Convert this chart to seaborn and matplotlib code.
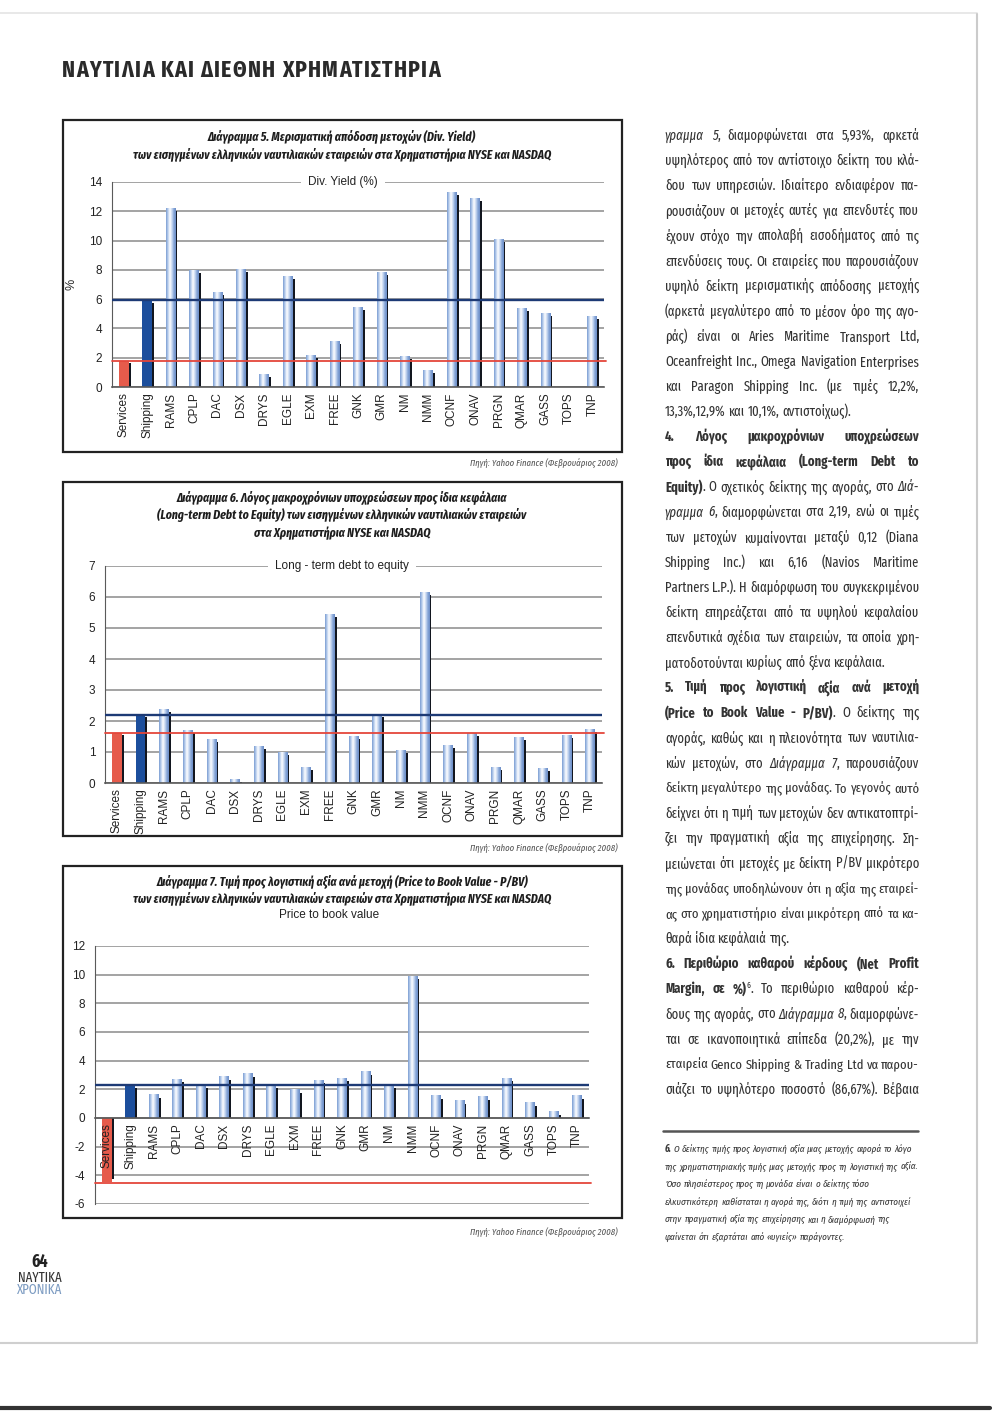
import numpy as np
import pandas as pd
import matplotlib
matplotlib.use("Agg")
import matplotlib.pyplot as plt
import seaborn as sns
from matplotlib import font_manager
from matplotlib.patches import Rectangle
from matplotlib.lines import Line2D
from matplotlib.colors import LinearSegmentedColormap

W, H, DPI = 1000, 1414, 100

# ---------------- data ----------------
tickers = ["Services", "Shipping", "RAMS", "CPLP", "DAC", "DSX", "DRYS", "EGLE", "EXM", "FREE",
           "GNK", "GMR", "NM", "NMM", "OCNF", "ONAV", "PRGN", "QMAR", "GASS", "TOPS", "TNP"]

div_yield = [1.8, 5.93, 12.2, 7.95, 6.45, 8.0, 0.85, 7.55, 2.15, 3.1,
             5.4, 7.8, 2.07, 1.15, 13.3, 12.9, 10.05, 5.38, 5.0, 0.0, 4.8]
debt_equity = [1.62, 2.2, 2.37, 1.69, 1.41, 0.12, 1.19, 0.98, 0.51, 5.45,
               1.49, 2.2, 1.04, 6.16, 1.2, 1.59, 0.51, 1.47, 0.48, 1.54, 1.73]
price_book = [-4.45, 2.32, 1.63, 2.7, 2.29, 2.87, 3.1, 2.29, 1.96, 2.63,
              2.78, 3.22, 2.29, 9.9, 1.54, 1.2, 1.48, 2.77, 1.07, 0.45, 1.54]

services_avg = [1.75, 1.62, -4.54]
shipping_avg = [5.93, 2.2, 2.3]

chart_titles = [
    ["Διάγραμμα 5. Μερισματική απόδοση μετοχών (Div. Yield)",
     "των εισηγμένων ελληνικών ναυτιλιακών εταιρειών στα Χρηματιστήρια NYSE και NASDAQ"],
    ["Διάγραμμα 6. Λόγος μακροχρόνιων υποχρεώσεων προς ίδια κεφάλαια",
     "(Long-term Debt to Equity) των εισηγμένων ελληνικών ναυτιλιακών εταιρειών",
     "στα Χρηματιστήρια NYSE και NASDAQ"],
    ["Διάγραμμα 7. Τιμή προς λογιστική αξία ανά μετοχή (Price to Book Value - P/BV)",
     "των εισηγμένων ελληνικών ναυτιλιακών εταιρειών στα Χρηματιστήρια NYSE και NASDAQ"],
]
series_names = ["Div. Yield (%)", "Long - term debt to equity", "Price to book value"]
source_note = "Πηγή: Yahoo Finance (Φεβρουάριος 2008)"
header = "ΝΑΥΤΙΛΙΑ ΚΑΙ ΔΙΕΘΝΗ ΧΡΗΜΑΤΙΣΤΗΡΙΑ"

# body text of the right column: (text, style) segments; r=regular, i=italic, b=bold, s=superscript
body_lines = [
    [("γραμμα 5", "i"), (", διαμορφώνεται στα 5,93%, αρκετά", "r")],
    [("υψηλότερος από τον αντίστοιχο δείκτη του κλά-", "r")],
    [("δου των υπηρεσιών. Ιδιαίτερο ενδιαφέρον πα-", "r")],
    [("ρουσιάζουν οι μετοχές αυτές για επενδυτές που", "r")],
    [("έχουν στόχο την απολαβή εισοδήματος από τις", "r")],
    [("επενδύσεις τους. Οι εταιρείες που παρουσιάζουν", "r")],
    [("υψηλό δείκτη μερισματικής απόδοσης μετοχής", "r")],
    [("(αρκετά μεγαλύτερο από το μέσον όρο της αγο-", "r")],
    [("ράς) είναι οι Aries Maritime Transport Ltd,", "r")],
    [("Oceanfreight Inc., Omega Navigation Enterprises", "r")],
    [("και Paragon Shipping Inc. (με τιμές 12,2%,", "r")],
    [("13,3%,12,9% και 10,1%, αντιστοίχως).", "r")],
    [("4. Λόγος μακροχρόνιων υποχρεώσεων", "b")],
    [("προς ίδια κεφάλαια (Long-term Debt to", "b")],
    [("Equity)", "b"), (". Ο σχετικός δείκτης της αγοράς, στο ", "r"), ("Διά-", "i")],
    [("γραμμα 6", "i"), (", διαμορφώνεται στα 2,19, ενώ οι τιμές", "r")],
    [("των μετοχών κυμαίνονται μεταξύ 0,12 (Diana", "r")],
    [("Shipping Inc.) και 6,16 (Navios Maritime", "r")],
    [("Partners L.P.). Η διαμόρφωση του συγκεκριμένου", "r")],
    [("δείκτη επηρεάζεται από τα υψηλού κεφαλαίου", "r")],
    [("επενδυτικά σχέδια των εταιρειών, τα οποία χρη-", "r")],
    [("ματοδοτούνται κυρίως από ξένα κεφάλαια.", "r")],
    [("5. Τιμή προς λογιστική αξία ανά μετοχή", "b")],
    [("(Price to Book Value - P/BV)", "b"), (". Ο δείκτης της", "r")],
    [("αγοράς, καθώς και η πλειονότητα των ναυτιλια-", "r")],
    [("κών μετοχών, στο ", "r"), ("Διάγραμμα 7", "i"), (", παρουσιάζουν", "r")],
    [("δείκτη μεγαλύτερο της μονάδας. Το γεγονός αυτό", "r")],
    [("δείχνει ότι η τιμή των μετοχών δεν αντικατοπτρί-", "r")],
    [("ζει την πραγματική αξία της επιχείρησης. Ση-", "r")],
    [("μειώνεται ότι μετοχές με δείκτη P/BV μικρότερο", "r")],
    [("της μονάδας υποδηλώνουν ότι η αξία της εταιρεί-", "r")],
    [("ας στο χρηματιστήριο είναι μικρότερη από τα κα-", "r")],
    [("θαρά ίδια κεφάλαιά της.", "r")],
    [("6. Περιθώριο καθαρού κέρδους (Net Profit", "b")],
    [("Margin, σε %)", "b"), ("6", "s"), (". Το περιθώριο καθαρού κέρ-", "r")],
    [("δους της αγοράς, στο ", "r"), ("Διάγραμμα 8", "i"), (", διαμορφώνε-", "r")],
    [("ται σε ικανοποιητικά επίπεδα (20,2%), με την", "r")],
    [("εταιρεία Genco Shipping & Trading Ltd να παρου-", "r")],
    [("σιάζει το υψηλότερο ποσοστό (86,67%). Βέβαια", "r")],
]
paragraph_ends = {11, 21, 32}

footnote_lines = [
    [("6.", "bi"), (" Ο δείκτης τιμής προς λογιστική αξία μιας μετοχής αφορά το λόγο", "i")],
    [("της χρηματιστηριακής τιμής μιας μετοχής προς τη λογιστική της αξία.", "i")],
    [("Όσο πλησιέστερος προς τη μονάδα είναι ο δείκτης τόσο", "i")],
    [("ελκυστικότερη καθίσταται η αγορά της, διότι η τιμή της αντιστοιχεί", "i")],
    [("στην πραγματική αξία της επιχείρησης και η διαμόρφωσή της", "i")],
    [("φαίνεται ότι εξαρτάται από «υγιείς» παράγοντες.", "i")],
]

# ---------------- setup ----------------
sns.set_style("white")
available = {f.name for f in font_manager.fontManager.ttflist}
NARROW = "Fira Sans Condensed" if "Fira Sans Condensed" in available else "DejaVu Sans"
XNARROW = "Fira Sans Extra Condensed" if "Fira Sans Extra Condensed" in available else NARROW
plt.rcParams["font.family"] = ["Liberation Sans", "DejaVu Sans"]
plt.rcParams["axes.unicode_minus"] = False

RED = "#E65B4B"
NAVY = "#1C4E9C"
LIGHT = "#8FB0DD"
CYL = LinearSegmentedColormap.from_list(
    "cyl", ["#7b9dd2", "#b9cfee", "#ffffff", "#c9d9f1", "#86a6d8", "#6b8cc6"])
GRAD = np.linspace(0, 1, 64).reshape(1, -1)

fig = plt.figure(figsize=(W / DPI, H / DPI), dpi=DPI)
fig.patch.set_facecolor("white")
renderer = fig.canvas.get_renderer()


def fx(x):
    return x / W


def fy(y):
    return 1 - y / H


_cache = {}


def style_kw(st, size, family=None):
    kw = dict(family=[family or XNARROW, "DejaVu Sans"], fontsize=size)
    if "b" in st:
        kw["fontweight"] = "bold"
    if "i" in st:
        kw["fontstyle"] = "italic"
    if st == "s":
        kw["fontsize"] = size * 0.6
    return kw


def text_w(s, st, size, family=None):
    key = (s, st, size, family)
    if key not in _cache:
        if s == " ":
            _cache[key] = text_w("a a", st, size, family) - text_w("aa", st, size, family)
        else:
            t = fig.text(0, 0, s, **style_kw(st, size, family))
            _cache[key] = t.get_window_extent(renderer=renderer).width
            t.remove()
    return _cache[key]


def tokenize(segs):
    words = []
    new_word = True
    for txt, st in segs:
        parts = txt.split(" ")
        for k, p in enumerate(parts):
            if k > 0:
                new_word = True
            if p == "":
                continue
            if new_word or not words:
                words.append([(p, st)])
                new_word = False
            else:
                words[-1].append((p, st))
    return words


def natural_width(segs, size):
    words = tokenize(segs)
    ws = sum(text_w(t, st, size) for word in words for t, st in word)
    return ws + (len(words) - 1) * text_w(" ", "r", size)


def draw_line(segs, x0, x1, y, size, justify, color="#333333"):
    words = tokenize(segs)
    widths = [sum(text_w(t, st, size) for t, st in word) for word in words]
    gap = text_w(" ", "r", size)
    if justify and len(words) > 1:
        gap = (x1 - x0 - sum(widths)) / (len(words) - 1)
    x = x0
    for word, ww in zip(words, widths):
        xx = x
        for t, st in word:
            yy = y - (0.42 * size * DPI / 72 if st == "s" else 0)
            fig.text(fx(xx), fy(yy), t, va="baseline", ha="left", color=color, **style_kw(st, size))
            xx += text_w(t, st, size)
        x += ww + gap


def fit_size(segs_list, target, base=10):
    return min(base * target / natural_width(s, base) for s in segs_list)


# ---------------- header & page furniture ----------------
hsize = 17.0
nat = sum(text_w(c, "b", hsize) for c in header)
if nat > 370:
    hsize *= 370 / nat
    nat = sum(text_w(c, "b", hsize) for c in header)
track = (378 - nat) / (len(header) - 1)
x = 62
for c in header:
    if c != " ":
        fig.text(fx(x), fy(77), c, va="baseline", ha="left", color="#2a2a2a", **style_kw("b", hsize))
    x += text_w(c, "b", hsize) + track

fig.add_artist(Line2D([fx(0), fx(977)], [fy(13), fy(13)], color="#e4e4e4", lw=1.2))
fig.add_artist(Line2D([fx(977), fx(977)], [fy(14), fy(1342)], color="#cbcbcb", lw=1.5))
fig.add_artist(Line2D([fx(0), fx(977)], [fy(1343), fy(1343)], color="#cfcfcf", lw=1.5))
fig.add_artist(Line2D([fx(0), fx(990)], [fy(1408), fy(1408)], color="#333333", lw=3))

fig.text(fx(40), fy(1262), "64", ha="center", va="center", color="#222222", **style_kw("b", 12.5))
fig.text(fx(40), fy(1278), "ΝΑΥΤΙΚΑ", ha="center", va="center", color="#333333", **style_kw("r", 10))
fig.text(fx(40), fy(1290), "ΧΡΟΝΙΚΑ", ha="center", va="center", color="#7d9cc2", **style_kw("r", 10))

# ---------------- charts ----------------
chart_series = [div_yield, debt_equity, price_book]
chart_axes = [(112, 182, 604, 387), (105, 566, 602, 783), (95, 946, 589, 1204)]
chart_ylims = [(0, 14), (0, 7), (-6, 12)]
chart_ystep = [2, 1, 2]
chart_boxes = [(63, 120, 622, 452), (63, 482, 622, 836), (63, 866, 622, 1218)]
title_rows = [[136, 154], [497, 515, 533], [882, 898]]
source_rows = [463, 848, 1232]

title_size = fit_size([[(chart_titles[0][1], "bi")]], 423)
source_size = fit_size([[(source_note, "i")]], 148)

for k in range(3):
    bx0, by0, bx1, by1 = chart_boxes[k]
    fig.add_artist(Rectangle((fx(bx0), fy(by1)), fx(bx1 - bx0), (by1 - by0) / H,
                             transform=fig.transFigure, fill=False, ec="#222222", lw=1.6))
    for line, yc in zip(chart_titles[k], title_rows[k]):
        fig.text(fx(342), fy(yc), line, ha="center", va="center", color="#1e1e1e",
                 **style_kw("bi", title_size))
    fig.text(fx(618), fy(source_rows[k]), source_note, ha="right", va="center", color="#555555",
             **style_kw("i", source_size))

    left, top, right, bottom = chart_axes[k]
    ax = fig.add_axes([fx(left), fy(bottom), (right - left) / W, (bottom - top) / H])
    df = pd.DataFrame({"ticker": tickers, "value": chart_series[k]})
    palette = [RED, NAVY] + [LIGHT] * (len(tickers) - 2)
    sns.barplot(data=df, x="ticker", y="value", hue="ticker", palette=palette, legend=False,
                width=0.42, saturation=1, linewidth=0, ax=ax, zorder=3)

    lo, hi = chart_ylims[k]
    span = hi - lo
    for cont in ax.containers:
        for p in cont:
            bxp, bw, y0, h = p.get_x(), p.get_width(), p.get_y(), p.get_height()
            if not np.isfinite(h) or h == 0:
                continue
            idx = int(round(bxp + bw / 2))
            sh = h - np.sign(h) * 0.012 * span
            ax.add_patch(Rectangle((bxp + bw - 0.05, y0), 0.13, sh, color="#12161f", lw=0, zorder=2.8))
            if idx >= 2:
                ax.imshow(GRAD, extent=(bxp, bxp + bw, y0, y0 + h), aspect="auto", cmap=CYL,
                          interpolation="bilinear", zorder=3.1)

    n = len(tickers)
    ax.set_xlim(-0.5, n - 0.5)
    ax.set_ylim(lo, hi)
    ax.set_aspect("auto")
    ax.set_yticks(np.arange(lo, hi + 0.01, chart_ystep[k]))
    ax.yaxis.grid(True, color="#8a8a8a", lw=1.1)
    ax.xaxis.grid(False)
    ax.set_axisbelow(True)
    ax.xaxis.set_zorder(7)

    ax.axhline(shipping_avg[k], color="#1d3a75", lw=1.7, zorder=5)
    ax.axhline(services_avg[k], xmax=1.005, color="#e4463b", lw=1.3, zorder=5, clip_on=False)

    for side in ["top", "right"]:
        ax.spines[side].set_visible(False)
    ax.spines["left"].set_color("#5a5a5a")
    ax.spines["bottom"].set_color("#5a5a5a")
    ax.spines["bottom"].set_linewidth(1.2)
    if lo < 0:
        ax.spines["bottom"].set_position(("data", 0))
    ax.spines["bottom"].set_zorder(6)

    ax.tick_params(axis="y", length=4, width=0.8, color="#5a5a5a", labelsize=8.5,
                   labelcolor="#222222", pad=3)
    ax.tick_params(axis="x", which="major", length=0, labelsize=8.5, labelrotation=90,
                   labelcolor="#222222", pad=4)
    ax.set_xticks(np.arange(-0.5, n, 1), minor=True)
    ax.tick_params(axis="x", which="minor", length=4, width=0.8, color="#5a5a5a")
    ax.set_xlabel("")
    ax.set_ylabel("%" if k == 0 else "", fontsize=9, labelpad=8)
    ax.set_facecolor("none")

    if k < 2:
        xpos = [0.47, 0.477][k]
        ax.text(xpos, 1.0, series_names[k], transform=ax.transAxes, ha="center", va="center",
                fontsize=8.5, color="#222222", zorder=7,
                bbox=dict(fc="white", ec="none", pad=5))
    else:
        fig.text(fx(329), fy(915), series_names[k], ha="center", va="center",
                 fontsize=8.5, color="#222222")

# ---------------- right column text ----------------
COL0, COL1 = 665, 919
fits = [10 * (COL1 - COL0) / natural_width(segs, 10) for i, segs in enumerate(body_lines)
        if i not in paragraph_ends]
body_size = min(float(np.percentile(fits, 12)), 13)
for i, segs in enumerate(body_lines):
    size = body_size
    if i not in paragraph_ends:
        size = min(body_size, 10 * (COL1 - COL0) / natural_width(segs, 10))
    draw_line(segs, COL0, COL1, 140 + i * 25.1, size, i not in paragraph_ends, color="#333333")

fig.add_artist(Line2D([fx(663), fx(918)], [fy(1131), fy(1131)], color="#555555", lw=1.8))
foot_size = fit_size(footnote_lines, 253)
for i, segs in enumerate(footnote_lines):
    draw_line(segs, COL0, COL1, 1152 + i * 17.6, foot_size, False, color="#3a3a3a")

fig.savefig("out.png", dpi=DPI, facecolor="white")
